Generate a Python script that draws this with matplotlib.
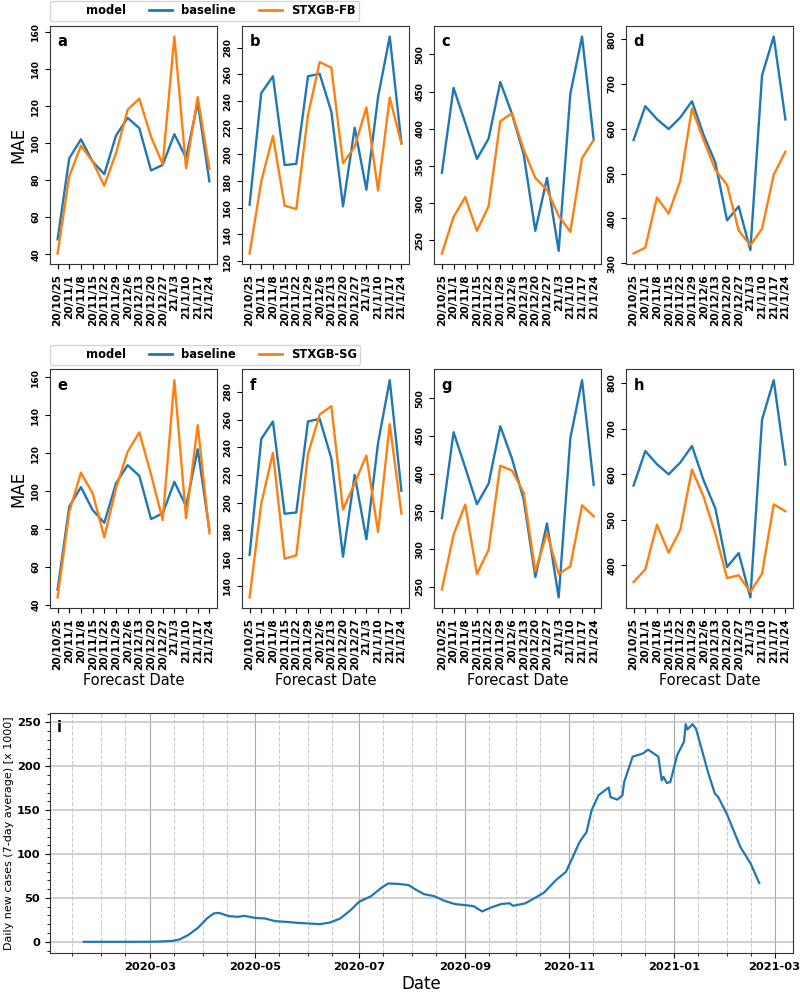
import numpy as np
import pandas as pd
import matplotlib
matplotlib.use("Agg")
import matplotlib.pyplot as plt
import matplotlib.dates as mdates
from matplotlib.lines import Line2D
from matplotlib.ticker import MultipleLocator

# forecast weeks shared by panels a-h
forecast_dates = ['20/10/25', '20/11/1', '20/11/8', '20/11/15', '20/11/22', '20/11/29',
                  '20/12/6', '20/12/13', '20/12/20', '20/12/27', '21/1/3', '21/1/10',
                  '21/1/17', '21/1/24']

# MAE for the four horizons (columns)
baseline_1 = [48, 91.8, 102, 90, 83.2, 104, 113.6, 108, 85.2, 88.2, 104.8, 92, 122, 79.3]
baseline_2 = [162.3, 246, 258.6, 192, 192.9, 258.6, 260.5, 232, 161, 220, 173.5, 243, 288.4, 208.5]
baseline_3 = [341, 454.8, 408, 359.5, 386.7, 462.8, 420, 366, 263, 334, 236, 447, 523.8, 385]
baseline_4 = [575, 650.6, 621.7, 599.6, 625.4, 661.7, 586, 524.9, 396, 427, 329.6, 719.4, 806, 621]

stxgb_fb_1 = [40.4, 82, 98.6, 90, 77, 94.5, 118, 124, 103.4, 88.6, 157.5, 86.4, 124.8, 86]
stxgb_fb_2 = [125.7, 179.7, 213.8, 161.5, 159, 229.5, 269.3, 265, 193.4, 205.8, 235.2, 173, 242.6, 208]
stxgb_fb_3 = [232.6, 281.6, 308.3, 263, 296, 410, 421, 372, 334, 318, 283, 261.6, 360.4, 385]
stxgb_fb_4 = [322, 334.8, 447, 411, 484, 645.4, 575, 508.6, 475.3, 373, 340, 377, 497.5, 549]

stxgb_sg_1 = [43.9, 89, 109.6, 98.8, 75.6, 101.4, 120.7, 130.9, 108.8, 84.7, 158.4, 85.6, 134.7, 77.7]
stxgb_sg_2 = [131.6, 199.3, 236, 159.5, 162, 235, 263.6, 269.6, 195, 214, 234, 178.9, 256.7, 192.2]
stxgb_sg_3 = [246.5, 319, 359, 267, 299, 410.6, 404, 375, 270.7, 321.4, 267, 277.3, 358, 343.5]
stxgb_sg_4 = [363.4, 391, 489, 427.8, 478, 610, 550, 469.5, 372, 378, 341.5, 381.7, 533.8, 518.5]

# daily new cases, 7-day average, in thousands
case_dates = ['2020-01-22', '2020-02-15', '2020-03-01', '2020-03-08', '2020-03-14', '2020-03-18',
              '2020-03-23', '2020-03-29', '2020-04-03', '2020-04-07', '2020-04-10', '2020-04-16',
              '2020-04-21', '2020-04-25', '2020-05-01', '2020-05-07', '2020-05-13', '2020-05-19',
              '2020-05-26', '2020-06-08', '2020-06-14', '2020-06-20', '2020-06-26', '2020-07-01',
              '2020-07-08', '2020-07-14', '2020-07-18', '2020-07-24', '2020-07-30', '2020-08-02',
              '2020-08-08', '2020-08-14', '2020-08-20', '2020-08-26', '2020-09-01', '2020-09-06',
              '2020-09-11', '2020-09-16', '2020-09-22', '2020-09-27', '2020-09-29', '2020-10-06',
              '2020-10-10', '2020-10-17', '2020-10-24', '2020-10-30', '2020-11-03', '2020-11-07',
              '2020-11-11', '2020-11-14', '2020-11-18', '2020-11-24', '2020-11-25', '2020-11-29',
              '2020-12-02', '2020-12-03', '2020-12-08', '2020-12-14', '2020-12-17', '2020-12-23',
              '2020-12-25', '2020-12-26', '2020-12-28', '2020-12-30', '2021-01-03', '2021-01-07',
              '2021-01-08', '2021-01-09', '2021-01-12', '2021-01-14', '2021-01-17', '2021-01-21',
              '2021-01-25', '2021-01-27', '2021-02-01', '2021-02-09', '2021-02-15', '2021-02-20']
case_values = [0, 0, 0.1, 0.4, 1.1, 2.7,
               7.6, 16.3, 26.6, 32.3, 33, 29.2,
               28.5, 29.6, 27.3, 26.6, 23.5, 22.8,
               21.6, 20.1, 22, 26.6, 36, 45.6,
               52, 61.5, 66.5, 66, 64.6, 60.8,
               54.3, 52, 46.7, 43, 41.8, 40.6,
               34.6, 39, 43, 44, 41, 43.7,
               48, 55.8, 70, 79.8, 96.8, 114,
               125, 150, 167, 175.8, 165, 162,
               167, 182, 211, 214.6, 219, 211,
               184, 188, 181, 182, 212.7, 228,
               248, 242, 248, 243, 222, 193.7,
               169, 165, 146, 108, 89, 67]

BLUE = '#1f77b4'
ORANGE = '#ff7f0e'
SPINE = '#333333'

W, H = 800, 993
fig = plt.figure(figsize=(W / 100, H / 100), dpi=100)


def add_px_axes(left, top, right, bottom):
    return fig.add_axes([left / W, 1 - bottom / H, (right - left) / W, (bottom - top) / H])


lefts = [50, 242, 434.3, 626]
panel_w = 167
rows = [
    (25.7, 264.3, 'STXGB-FB', [stxgb_fb_1, stxgb_fb_2, stxgb_fb_3, stxgb_fb_4], 'abcd'),
    (369.3, 608.3, 'STXGB-SG', [stxgb_sg_1, stxgb_sg_2, stxgb_sg_3, stxgb_sg_4], 'efgh'),
]
baselines = [baseline_1, baseline_2, baseline_3, baseline_4]
x = np.arange(len(forecast_dates))

for r, (top, bottom, model_name, series, letters) in enumerate(rows):
    for c in range(4):
        ax = add_px_axes(lefts[c], top, lefts[c] + panel_w, bottom)
        ax.plot(x, baselines[c], color=BLUE, lw=1.7)
        ax.plot(x, series[c], color=ORANGE, lw=1.7)
        ax.set_xticks(x)
        ax.set_xticklabels(forecast_dates, rotation=90, fontsize=7.7, fontweight='bold')
        ax.tick_params(axis='y', labelsize=6.6, labelrotation=90)
        for lab in ax.get_yticklabels():
            lab.set_fontweight('bold')
            lab.set_va('center')
        for s in ax.spines.values():
            s.set_color(SPINE)
        ax.text(0.045, 0.965, letters[c], transform=ax.transAxes, ha='left', va='top',
                fontsize=10.5, fontweight='bold')
        if c == 0:
            ax.set_ylabel('MAE', fontsize=12, labelpad=3)
            handles = [Line2D([], [], color='none'),
                       Line2D([], [], color=BLUE, lw=2),
                       Line2D([], [], color=ORANGE, lw=2)]
            ax.legend(handles, ['model', 'baseline', model_name], ncol=3,
                      loc='lower left', bbox_to_anchor=(0, 1.02), borderaxespad=0,
                      borderpad=0.3, prop={'weight': 'bold', 'size': 8.3})
        if r == 1:
            ax.set_xlabel('Forecast Date', fontsize=10.5, labelpad=2)

# panel i: daily new cases
ax = add_px_axes(50, 713.3, 793, 952.7)
ax.plot(pd.to_datetime(case_dates), case_values, color=BLUE, lw=1.6)
ax.xaxis.set_major_locator(mdates.MonthLocator(bymonth=[1, 3, 5, 7, 9, 11]))
ax.xaxis.set_major_formatter(mdates.DateFormatter('%Y-%m'))
ax.xaxis.set_minor_locator(mdates.DayLocator(bymonthday=[1, 15]))
ax.yaxis.set_major_locator(MultipleLocator(50))
ax.yaxis.set_minor_locator(MultipleLocator(10))
ax.grid(which='major', axis='x', color='#a8a8a8', lw=0.8)
ax.grid(which='major', axis='y', color='#c4c4c4', lw=1.1)
ax.grid(which='minor', axis='x', color='#cccccc', lw=0.8, ls='--')
ax.tick_params(labelsize=8.2)
for lab in ax.get_xticklabels() + ax.get_yticklabels():
    lab.set_fontweight('bold')
for s in ax.spines.values():
    s.set_color(SPINE)
ax.set_xlabel('Date', fontsize=12, labelpad=2)
ax.set_ylabel('Daily new cases (7-day average) [x 1000]', fontsize=8, labelpad=2)
ax.text(0.009, 0.97, 'i', transform=ax.transAxes, ha='left', va='top',
        fontsize=10.5, fontweight='bold')

fig.savefig('out.png', dpi=100)
